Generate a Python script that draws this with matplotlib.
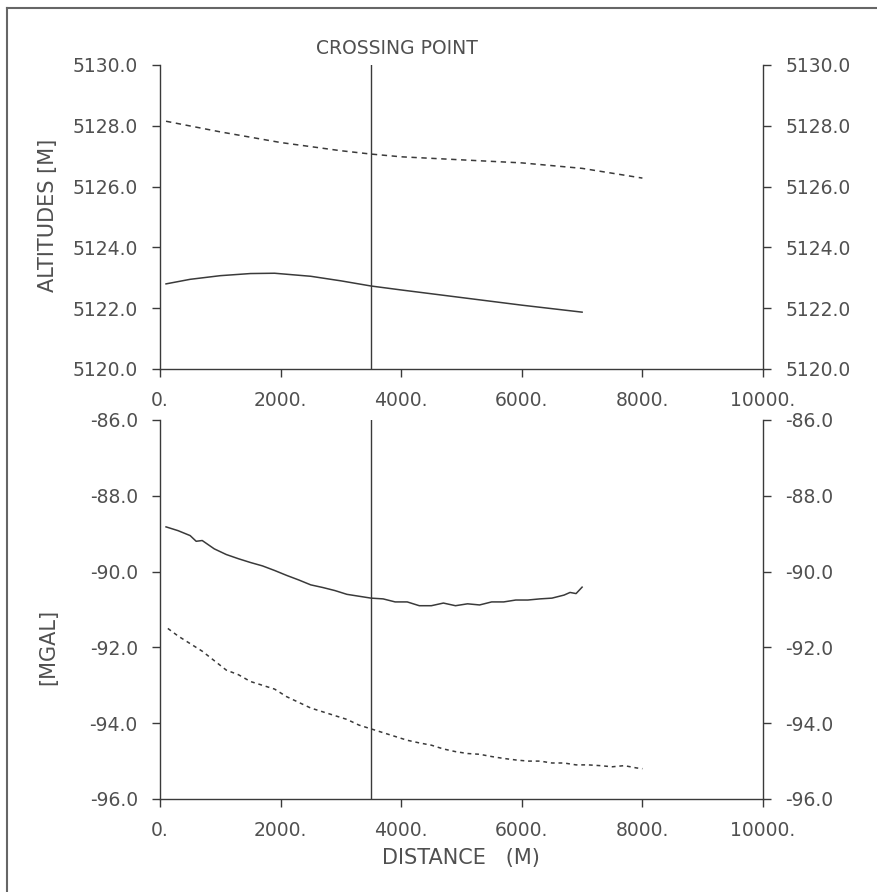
import numpy as np
from matplotlib import pyplot as plt
from matplotlib.lines import Line2D

# altitudes (m) le long du profil
dist_alt_a = [100, 1000, 2000, 3000, 3500, 4000, 5000, 6000, 7000, 8000]
alt_a = [5128.15, 5127.80, 5127.45, 5127.18, 5127.07, 5126.98, 5126.88, 5126.78, 5126.60, 5126.28]

dist_alt_b = [100, 500, 1000, 1500, 1900, 2500, 3000, 3500, 4000, 5000, 6000, 7000]
alt_b = [5122.80, 5122.95, 5123.07, 5123.14, 5123.15, 5123.05, 5122.90, 5122.73, 5122.60, 5122.35, 5122.10, 5121.87]

# gravite (mgal)
dist_g_b = [100, 300, 500, 600, 700, 900, 1100, 1300, 1500, 1700, 1900, 2100, 2300, 2500,
            2700, 2900, 3100, 3300, 3500, 3700, 3900, 4100, 4300, 4500, 4700, 4900, 5100,
            5300, 5500, 5700, 5900, 6100, 6300, 6500, 6700, 6800, 6900, 7000]
g_b = [-88.82, -88.92, -89.05, -89.20, -89.18, -89.40, -89.55, -89.66, -89.76, -89.85,
       -89.97, -90.10, -90.22, -90.35, -90.42, -90.50, -90.60, -90.65, -90.70, -90.72,
       -90.80, -90.80, -90.90, -90.90, -90.83, -90.90, -90.85, -90.88, -90.80, -90.80,
       -90.75, -90.75, -90.72, -90.70, -90.62, -90.55, -90.58, -90.41]

dist_g_a = [130, 300, 500, 700, 900, 1100, 1300, 1500, 1700, 1900, 2100, 2300, 2500, 2700,
            2900, 3100, 3300, 3500, 3700, 3900, 4100, 4300, 4500, 4700, 4900, 5100, 5300,
            5500, 5700, 5900, 6100, 6300, 6500, 6700, 6900, 7100, 7300, 7500, 7700, 7900, 8000]
g_a = [-91.50, -91.70, -91.90, -92.10, -92.35, -92.60, -92.72, -92.90, -93.00, -93.10,
       -93.30, -93.45, -93.60, -93.70, -93.80, -93.90, -94.05, -94.15, -94.25, -94.35,
       -94.45, -94.52, -94.58, -94.68, -94.75, -94.80, -94.82, -94.88, -94.93, -94.97,
       -95.00, -95.00, -95.05, -95.05, -95.10, -95.10, -95.12, -95.15, -95.12, -95.18, -95.20]

point_croisement = 3500
ticks_x = [0, 2000, 4000, 6000, 8000, 10000]
ticks_alt = [5120, 5122, 5124, 5126, 5128, 5130]
ticks_g = [-96, -94, -92, -90, -88, -86]

gris = '#3a3a3a'
txt = '#505050'
plt.rcParams['font.family'] = ['DejaVu Sans']

W, H = 878, 892
fig = plt.figure(figsize=(W / 100, H / 100), dpi=100)

ax1 = fig.add_axes([160 / W, 1 - 369 / H, 603 / W, 304 / H])
ax2 = fig.add_axes([160 / W, 1 - 799 / H, 603 / W, 379 / H])


def habiller(ax, yticks, ylim):
    ax.set_xlim(0, 10000)
    ax.set_ylim(*ylim)
    ax.spines['top'].set_visible(False)
    for s in ['left', 'right', 'bottom']:
        ax.spines[s].set_color(gris)
        ax.spines[s].set_linewidth(1.0)
    ax.set_xticks(ticks_x)
    ax.set_xticklabels(['%d.' % t for t in ticks_x])
    ax.set_yticks(yticks)
    ax.set_yticklabels(['%.1f' % t for t in yticks])
    ax.tick_params(axis='both', direction='out', length=6, width=1.0, color=gris,
                   labelcolor=txt, labelsize=13.5)
    ax.tick_params(axis='y', left=True, right=True, labelleft=True, labelright=True, pad=10)
    ax.tick_params(axis='x', pad=10)
    ax.axvline(point_croisement, color=gris, lw=1.0)


habiller(ax1, ticks_alt, (5120, 5130))
habiller(ax2, ticks_g, (-96, -86))

ax1.plot(dist_alt_a, alt_a, color=gris, lw=1.1, ls=(0, (3.5, 3)))
ax1.plot(dist_alt_b, alt_b, color=gris, lw=1.1)
ax2.plot(dist_g_b, g_b, color=gris, lw=1.1)
ax2.plot(dist_g_a, g_a, color=gris, lw=1.1, ls=(0, (2.5, 2.5)))

fig.text(397 / W, 1 - 48 / H, 'CROSSING POINT', ha='center', va='center',
         fontsize=13.5, color=txt)
fig.text(48 / W, 1 - 215 / H, 'ALTITUDES [M]', ha='center', va='center',
         rotation=90, fontsize=15, color=txt)
fig.text(48 / W, 1 - 647 / H, '[MGAL]', ha='center', va='center',
         rotation=90, fontsize=15, color=txt)
fig.text(461 / W, 1 - 858 / H, 'DISTANCE   (M)', ha='center', va='center',
         fontsize=15, color=txt)

# cadre de la page (gauche et haut seulement)
fig.add_artist(Line2D([7 / W, 7 / W], [0, 1 - 8 / H], transform=fig.transFigure,
                      color='#666666', lw=1.5))
fig.add_artist(Line2D([7 / W, 1], [1 - 8 / H, 1 - 8 / H], transform=fig.transFigure,
                      color='#666666', lw=1.5))

fig.savefig('out.png', dpi=100)
